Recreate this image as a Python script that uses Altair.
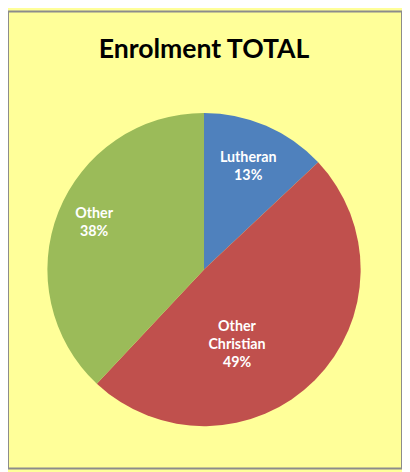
import math
import altair as alt
import pandas as pd

categories = ["Lutheran", "Other Christian", "Other"]
percents = [13, 49, 38]
label_lines = ["Lutheran\n13%", "Other\nChristian\n49%", "Other\n38%"]
colors = ["#4F81BD", "#C0504D", "#9BBB59"]

df = pd.DataFrame({
    "cat": categories,
    "pct": percents,
    "label": label_lines,
    "order": list(range(len(categories))),
})

CX, CY, R = 199, 262, 159

pie = alt.Chart(df).mark_arc(outerRadius=R).encode(
    theta=alt.Theta("pct:Q", stack=True),
    order=alt.Order("order:Q"),
    x=alt.value(CX),
    y=alt.value(CY),
    color=alt.Color("cat:N", scale=alt.Scale(domain=categories, range=colors), legend=None),
)

label_base = alt.Chart(df).transform_window(
    cum="sum(pct)", sort=[alt.SortField("order")]
).transform_joinaggregate(
    total="sum(pct)"
).transform_calculate(
    mid="(datum.cum - datum.pct / 2) / datum.total"
).encode(
    theta=alt.Theta("mid:Q", stack=None, scale=alt.Scale(domain=[0, 1], range=[0, 2 * math.pi])),
    x=alt.value(CX),
    y=alt.value(CY),
    text="label:N",
)

label_style = {
    "Lutheran": dict(radius=113, dx=0, dy=-9),
    "Other Christian": dict(radius=70, dx=-16, dy=9),
    "Other": dict(radius=120, dx=0, dy=-12),
}

labels = []
for cat, st in label_style.items():
    labels.append(
        label_base.mark_text(
            radius=st["radius"], dx=st["dx"], dy=st["dy"],
            font="Lato", fontWeight="bold", fontSize=14.5, color="white",
            lineBreak="\n", lineHeight=18, align="center", baseline="middle",
        ).transform_filter(alt.datum.cat == cat)
    )

title = alt.Chart(pd.DataFrame({"t": ["Enrolment TOTAL"]})).mark_text(
    font="Lato", fontWeight="bold", fontSize=27, color="black",
    align="center", baseline="middle",
).encode(text="t:N", x=alt.value(199), y=alt.value(39))

chart = alt.layer(pie, *labels, title).resolve_scale(theta="independent").properties(
    width=400, height=464,
    autosize=alt.AutoSizeParams(type="fit", contains="padding"),
    padding=0,
    background="#FFFF99",
).configure_view(stroke="#8C8C8C", strokeWidth=2, fill="#FFFF99")

chart.save("out.html", embed_options={"renderer": "svg", "actions": False})
